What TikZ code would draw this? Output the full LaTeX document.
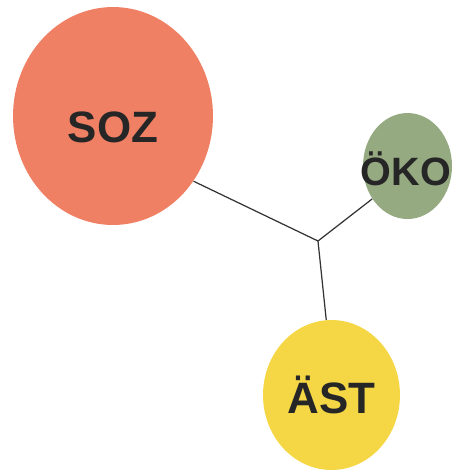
\documentclass[tikz,border=0pt]{standalone}
\usepackage{fontspec}
\setmainfont{Liberation Sans}
\usetikzlibrary{shapes.geometric}
\definecolor{sozred}{RGB}{240,128,100}
\definecolor{okogreen}{RGB}{150,170,130}
\definecolor{astyellow}{RGB}{245,215,70}

\begin{document}
\begin{tikzpicture}[x=0.02cm, y=-0.02cm,
  blob/.style={ellipse, inner sep=0pt},
  tag/.style={font=\fontsize{25}{25}\selectfont\bfseries, text=black!85},
  link/.style={draw=black!80, line width=0.7pt}
]
\useasboundingbox (0,0) rectangle (454,471);

% Draw the three circles
\node[blob, fill=sozred, minimum width=4cm, minimum height=4.36cm,
  label={[tag, yshift=-0.22cm]center:SOZ}] (soz) at (113,116) {};
\node[blob, fill=okogreen, minimum width=1.78cm, minimum height=2.12cm,
  label={[tag, font=\fontsize{22.5}{22.5}\selectfont\bfseries, xshift=-0.03cm, yshift=-0.06cm]center:ÖKO}] (oko) at (407.5,166) {};
\node[blob, fill=astyellow, minimum width=2.74cm, minimum height=3cm,
  label={[tag]center:ÄST}] (ast) at (331.5,395) {};

% Draw links to the junction
\coordinate (hub) at (318,241);
\draw[link] (hub) -- (soz.-39);
\draw[link] (hub) -- (oko.223);
\draw[link] (hub) -- (ast.94);

\end{tikzpicture}
\end{document}
